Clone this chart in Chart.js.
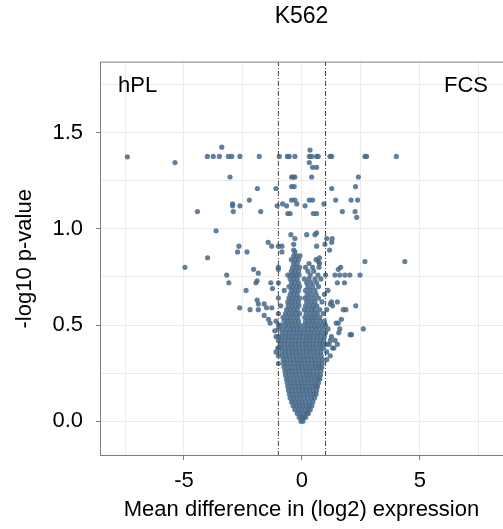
<!DOCTYPE html>
<html>
<head>
<meta charset="utf-8">
<script src="https://cdn.jsdelivr.net/npm/chart.js@4"></script>
<style>
  html, body { margin: 0; padding: 0; background: #fff; }
</style>
</head>
<body>
<canvas id="chart" width="503" height="529"></canvas>
<script>
// axis ticks
const xTicks = [-7.5, -5, -2.5, 0, 2.5, 5, 7.5];
const xLabels = [-5, 0, 5];
const yTicks = [0, 0.25, 0.5, 0.75, 1, 1.25, 1.5, 1.75];
const yLabels = [0, 0.5, 1, 1.5];
const cutoffs = [-1, 1];

// scattered genes away from the main body
const sparseDiff = [
  -7.4, -5.38, -4.01, -3.76, -3.5, -3.12, -2.98, -2.63, -1.81, -0.96, -0.62, -0.54, -0.3, 0.31, 0.41, 0.62, 0.69, 1.19, 1.26, 2.67, 2.74, 4.0,
  -3.4, 0.34, 0.31, 0.45, 0.62,
  -3.05, -0.44, -0.37, -0.3, 0.41, 2.39,
  -1.89, -1.1, -0.44, -0.33, 1.26, 2.27,
  -2.23, -2.94, -2.94, -2.63, -2.91, -4.43, -1.75, -1.05, -0.82, -0.65, -0.44, -0.3, -0.22, -0.6, -0.5, 0.13, 0.31, 0.45, 0.48, 0.62, 0.93, 1.43, 1.71, 2.08, 2.36, 2.25, 2.32,
  -3.64, -0.47, -0.3, 0.2, 0.55, 1.28, 0.62,
  -1.43, -1.28, -1.0, -0.85, -0.35, -0.35, 0.62, 1.05, 0.97, 1.26, 1.17,
  -2.67, -2.73, -2.33, -4.0, -4.96, 2.67, 4.36, 0.7, 0.74,
  -3.19, -3.1, -2.05, -1.95, -1.32, -1.25, -1.0, -1.85, -1.9,
  1.54, 1.64, 1.4, 1.6, 1.82, 2.03, 2.46, 1.5, 1.8, 1.0,
  -2.37, -2.64, -2.2, -1.85, -1.85, -1.5, -1.28, -1.6, -1.42, -1.35, -1.9, -1.6,
  1.1, 1.25, 1.3, 1.75, 1.86, 2.28, 1.45, 1.54, 1.67, 2.1, 2.6, 1.56, 2.04, 1.2, 1.5,
  -1.0, -1.0, -1.02, 1.05, 1.2, 1.35, 1.5, 1.6, -1.15, -1.1
];
const sparseLogP = [
  1.375, 1.345, 1.377, 1.377, 1.377, 1.377, 1.377, 1.377, 1.377, 1.377, 1.377, 1.377, 1.377, 1.377, 1.377, 1.377, 1.377, 1.377, 1.377, 1.377, 1.377, 1.377,
  1.425, 1.41, 1.345, 1.32, 1.32,
  1.27, 1.27, 1.27, 1.27, 1.27, 1.27,
  1.21, 1.21, 1.22, 1.22, 1.21, 1.22,
  1.15, 1.13, 1.12, 1.12, 1.09, 1.09, 1.09, 1.12, 1.13, 1.12, 1.15, 1.15, 1.13, 1.08, 1.08, 1.12, 1.15, 1.15, 1.08, 1.08, 1.13, 1.15, 1.09, 1.15, 1.15, 1.09, 1.06,
  0.99, 0.97, 0.95, 0.97, 0.97, 0.95, 0.98,
  0.93, 0.91, 0.91, 0.91, 0.92, 0.89, 0.91, 0.95, 0.92, 0.93, 0.89,
  0.91, 0.88, 0.88, 0.85, 0.80, 0.83, 0.83, 0.83, 0.85,
  0.76, 0.72, 0.79, 0.72, 0.72, 0.69, 0.79, 0.77, 0.73,
  0.79, 0.8, 0.76, 0.76, 0.76, 0.76, 0.76, 0.72, 0.72, 0.76,
  0.68, 0.59, 0.58, 0.61, 0.58, 0.59, 0.59, 0.55, 0.53, 0.51, 0.63, 0.61,
  0.68, 0.62, 0.6, 0.58, 0.58, 0.6, 0.51, 0.51, 0.53, 0.45, 0.48, 0.46, 0.45, 0.61, 0.62,
  0.5, 0.44, 0.38, 0.4, 0.42, 0.38, 0.4, 0.48, 0.47, 0.36
];

// dense body of the volcano, one row of differences per -log10 p level
const bodyLevels = [
  0.00, 0.02, 0.04, 0.06, 0.08, 0.10, 0.12, 0.14, 0.16, 0.18,
  0.20, 0.22, 0.24, 0.26, 0.28, 0.30, 0.32, 0.34, 0.36, 0.38,
  0.40, 0.42, 0.44, 0.46, 0.48, 0.50, 0.52, 0.54, 0.56, 0.58,
  0.60, 0.62, 0.64, 0.66, 0.68, 0.70, 0.72, 0.74, 0.76, 0.78,
  0.80, 0.82, 0.84, 0.86, 0.88
];
const bodyRows = [
  [-0.04, 0.04],
  [-0.12, -0.02, 0.08, 0.16],
  [-0.2, -0.06, 0.08, 0.2, 0.27],
  [-0.3, -0.16, -0.02, 0.12, 0.25, 0.35],
  [-0.38, -0.24, -0.1, 0.04, 0.18, 0.31, 0.42],
  [-0.44, -0.3, -0.15, 0, 0.15, 0.3, 0.46],
  [-0.5, -0.35, -0.2, -0.05, 0.1, 0.25, 0.4, 0.53],
  [-0.53, -0.38, -0.23, -0.08, 0.07, 0.22, 0.37, 0.5, 0.6],
  [-0.57, -0.42, -0.27, -0.12, 0.03, 0.18, 0.33, 0.48, 0.62],
  [-0.6, -0.45, -0.3, -0.15, 0, 0.15, 0.3, 0.45, 0.58, 0.66],
  [-0.63, -0.48, -0.33, -0.18, -0.03, 0.12, 0.27, 0.42, 0.57, 0.7],
  [-0.66, -0.51, -0.36, -0.21, -0.06, 0.09, 0.24, 0.39, 0.54, 0.68, 0.76],
  [-0.7, -0.55, -0.4, -0.25, -0.1, 0.05, 0.2, 0.35, 0.5, 0.65, 0.78],
  [-0.72, -0.57, -0.42, -0.27, -0.12, 0.03, 0.18, 0.33, 0.48, 0.63, 0.8],
  [-0.76, -0.6, -0.45, -0.3, -0.15, 0, 0.15, 0.3, 0.45, 0.6, 0.72, 0.84],
  [-1.0, -0.78, -0.63, -0.48, -0.33, -0.18, -0.03, 0.12, 0.27, 0.42, 0.57, 0.72, 0.86],
  [-0.8, -0.65, -0.5, -0.35, -0.2, -0.05, 0.1, 0.25, 0.4, 0.55, 0.7, 0.86, 1.05],
  [-1.0, -0.84, -0.68, -0.53, -0.38, -0.23, -0.08, 0.07, 0.22, 0.37, 0.52, 0.67, 0.82, 1.2],
  [-0.86, -0.7, -0.55, -0.4, -0.25, -0.1, 0.05, 0.2, 0.35, 0.5, 0.65, 0.8, 1.05],
  [-1.0, -0.88, -0.72, -0.57, -0.42, -0.27, -0.12, 0.03, 0.18, 0.33, 0.48, 0.63, 0.78, 0.9, 1.3],
  [-0.9, -0.75, -0.6, -0.45, -0.3, -0.15, 0, 0.15, 0.3, 0.45, 0.6, 0.75, 0.88, 1.15],
  [-1.0, -0.88, -0.72, -0.57, -0.42, -0.27, -0.12, 0.03, 0.18, 0.33, 0.48, 0.63, 0.78, 0.92, 1.4],
  [-1.1, -0.86, -0.7, -0.55, -0.4, -0.25, -0.1, 0.05, 0.2, 0.35, 0.5, 0.65, 0.8, 0.95, 1.25],
  [-0.84, -0.68, -0.53, -0.38, -0.23, -0.08, 0.07, 0.22, 0.37, 0.52, 0.67, 0.82, 1.0],
  [-1.0, -0.82, -0.66, -0.5, -0.35, -0.2, -0.05, 0.12, 0.27, 0.42, 0.57, 0.72, 0.9, 1.1],
  [-0.9, -0.7, -0.55, -0.4, -0.25, -0.1, 0.1, 0.25, 0.4, 0.55, 0.7, 0.85, 1.0],
  [-1.1, -0.75, -0.6, -0.45, -0.3, -0.15, 0.15, 0.3, 0.45, 0.6, 0.78, 0.95],
  [-0.8, -0.62, -0.48, -0.33, -0.18, 0.12, 0.28, 0.43, 0.58, 0.75],
  [-1.0, -0.7, -0.55, -0.4, -0.25, -0.1, 0.18, 0.35, 0.5, 0.65, 0.9],
  [-0.65, -0.5, -0.35, -0.2, 0.1, 0.25, 0.4, 0.55, 0.75, 1.05],
  [-0.9, -0.58, -0.43, -0.28, -0.13, 0.15, 0.32, 0.48, 0.63],
  [-0.6, -0.45, -0.3, -0.15, 0.2, 0.38, 0.55, 0.85],
  [-1.0, -0.55, -0.4, -0.25, -0.1, 0.12, 0.3, 0.5, 0.7],
  [-0.5, -0.35, -0.2, 0.22, 0.4, 0.6, 0.95],
  [-0.75, -0.45, -0.3, -0.15, 0.15, 0.35, 0.55],
  [-0.55, -0.4, -0.25, -0.1, 0.25, 0.45, 0.7],
  [-1.0, -0.45, -0.3, -0.15, 0.2, 0.4, 0.62],
  [-0.5, -0.35, -0.2, 0.1, 0.3, 0.55, 0.8],
  [-0.6, -0.48, -0.36, -0.24, -0.12, 0.35, 0.68],
  [-0.45, -0.3, -0.15, 0.25, 0.5],
  [-1.0, -0.4, -0.25, -0.1, 0.15, 0.45, 0.72],
  [-0.35, -0.2, 0.3, 0.74],
  [-0.45, -0.3, -0.15, 0.6],
  [-0.35, -0.22, -0.08],
  [-0.3, -0.85]
];

const FONT = "'Liberation Sans', Arial, sans-serif";
const pointColor = "rgba(70, 106, 138, 0.85)";

const genes = [];
sparseDiff.forEach((d, i) => genes.push({ x: d, y: sparseLogP[i] }));
bodyLevels.forEach((p, i) => bodyRows[i].forEach(d => genes.push({ x: d, y: p })));

const yMin = -0.181, yMax = 1.87;

const cutoffSets = cutoffs.map(c => ({
    data: [{ x: c, y: yMin }, { x: c, y: yMax }],
    showLine: true,
    pointRadius: 0,
    borderColor: "#444",
    borderWidth: 1,
    borderDash: [5, 2, 1, 2],
    order: 0,
}));

// panel border and the two group labels
const panelText = {
    id: "panelText",
    afterDraw(chart) {
        const { ctx, chartArea: a } = chart;
        ctx.save();
        ctx.strokeStyle = "#7f7f7f";
        ctx.lineWidth = 1;
        ctx.strokeRect(a.left + 0.5, a.top + 0.5, a.right - a.left, a.bottom - a.top - 1);
        ctx.fillStyle = "#000";
        ctx.font = "22px " + FONT;
        ctx.textBaseline = "middle";
        ctx.textAlign = "left";
        ctx.fillText("hPL", a.left + 18, a.top + 24);
        ctx.textAlign = "right";
        ctx.fillText("FCS", a.right - 15, a.top + 24);
        ctx.restore();
    }
};

new Chart(document.getElementById("chart"), {
    type: "scatter",
    data: {
        datasets: [
            ...cutoffSets,
            {
                data: genes,
                pointRadius: 2.6,
                pointBackgroundColor: pointColor,
                pointBorderWidth: 0,
                order: 1,
            },
        ],
    },
    options: {
        responsive: false,
        animation: false,
        layout: { padding: 0, autoPadding: false },
        plugins: {
            legend: { display: false },
            tooltip: { enabled: false },
            title: {
                display: true,
                fullSize: false,
                text: "K562",
                color: "#000",
                font: { family: FONT, size: 23, weight: "normal" },
                padding: { top: 3, bottom: 31 },
            },
        },
        scales: {
            x: {
                type: "linear",
                min: -8.56,
                max: 8.52,
                afterBuildTicks: s => { s.ticks = xTicks.map(v => ({ value: v })); },
                afterFit: s => { s.height = 73; s.paddingLeft = 0; s.paddingRight = 0; },
                border: { display: false },
                grid: {
                    color: "#ebebeb",
                    tickLength: 4,
                    tickColor: c => xLabels.includes(c.tick.value) ? "#7f7f7f" : "rgba(0,0,0,0)",
                },
                ticks: {
                    autoSkip: false,
                    maxRotation: 0,
                    padding: 8,
                    color: "#000",
                    font: { family: FONT, size: 22 },
                    callback: v => xLabels.includes(v) ? String(v) : "",
                },
                title: {
                    display: true,
                    text: "Mean difference in (log2) expression",
                    color: "#000",
                    font: { family: FONT, size: 22 },
                    padding: { top: 0, bottom: 6 },
                },
            },
            y: {
                min: yMin,
                max: yMax,
                afterBuildTicks: s => { s.ticks = yTicks.map(v => ({ value: v })); },
                afterFit: s => { s.width = 100; s.paddingTop = 0; s.paddingBottom = 0; },
                border: { display: false },
                grid: {
                    color: "#ebebeb",
                    tickLength: 4,
                    tickColor: c => yLabels.includes(c.tick.value) ? "#7f7f7f" : "rgba(0,0,0,0)",
                },
                ticks: {
                    padding: 13,
                    color: "#000",
                    font: { family: FONT, size: 22 },
                    callback: v => yLabels.includes(v) ? v.toFixed(1) : "",
                },
                title: {
                    display: true,
                    text: "-log10 p-value",
                    color: "#000",
                    font: { family: FONT, size: 22 },
                    padding: { top: 12, bottom: 0 },
                },
            },
        },
    },
    plugins: [panelText],
});
</script>
</body>
</html>
